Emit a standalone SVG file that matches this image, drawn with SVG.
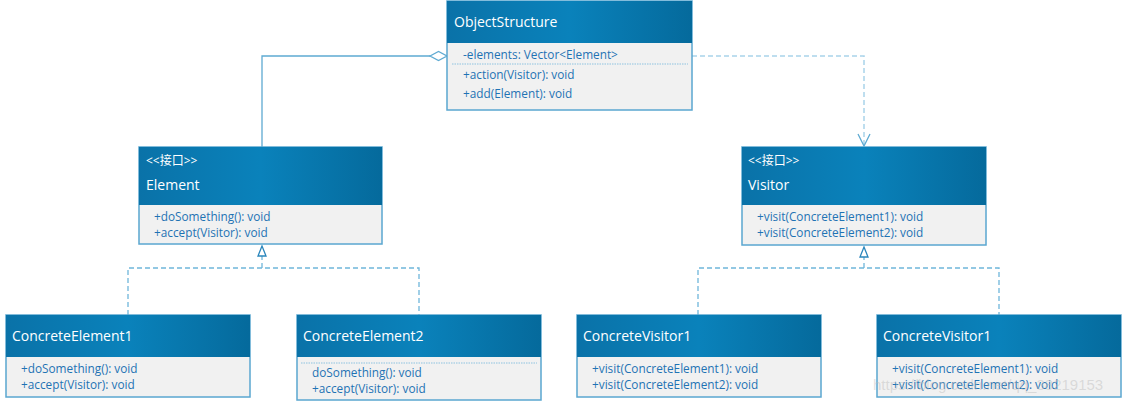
<svg xmlns="http://www.w3.org/2000/svg" width="1125" height="404" viewBox="0 0 1125 404">
<style>
.box{fill:#f1f1f1;stroke:#5aa6d0;stroke-width:1.5}
.hdr{fill:url(#hg)}
.t{font-family:"Open Sans","Noto Sans CJK SC",sans-serif;font-size:14px;fill:#ffffff}
.st{font-family:"Open Sans","Noto Sans CJK SC",sans-serif;font-size:12px;fill:#ffffff}
.m{font-family:"Open Sans","Noto Sans CJK SC",sans-serif;font-size:11.8px;fill:#1f73b4}
.sep{stroke:#8ec3e0;stroke-width:1;stroke-dasharray:1.5 1}
.solid{fill:none;stroke:#5eaad2;stroke-width:1.3}
.dash{fill:none;stroke:#6fb6da;stroke-width:1.3;stroke-dasharray:5 3}
.dash2{fill:none;stroke:#a9d3ea;stroke-width:1.5;stroke-dasharray:5 3}
.arr{fill:#ffffff;stroke:#2a86bc;stroke-width:1.3}
</style>
<defs>
<linearGradient id="hg" x1="0" y1="0" x2="1" y2="0">
<stop offset="0" stop-color="#0a72a8"/>
<stop offset="0.5" stop-color="#0a82bb"/>
<stop offset="1" stop-color="#056a9c"/>
</linearGradient>
</defs>
<g id="connectors">
<polyline class="solid" points="430,56 262,56 262,147"/>
<polygon class="arr" points="430,56 438.5,51.5 447,56 438.5,60.5" style="stroke:#5eaad2"/>
<polyline class="dash2" points="692,56 864,56 864,146"/>
<polyline points="858,134 864,146 870,134" fill="none" stroke="#5eaad2" stroke-width="1.3"/>
<polyline class="dash" points="128,315 128,268 419,268 419,315"/>
<line class="dash" x1="262" y1="268" x2="262" y2="256"/>
<polygon class="arr" points="262,246 258,256 266,256"/>
<polyline class="dash" points="698,315 698,268 999,268 999,315"/>
<line class="dash" x1="864" y1="268" x2="864" y2="257"/>
<polygon class="arr" points="864,247 860,257 868,257"/>
</g>
<g id="ObjectStructure">
<rect class="box" x="447" y="1" width="245" height="109"/>
<rect class="hdr" x="447" y="1" width="245" height="42"/>
<text class="t" x="454" y="27">ObjectStructure</text>
<text class="m" x="463" y="59">-elements: Vector&lt;Element&gt;</text>
<line class="sep" x1="452" y1="64" x2="688" y2="64"/>
<text class="m" x="463" y="79">+action(Visitor): void</text>
<text class="m" x="463" y="98">+add(Element): void</text>
</g>
<g id="Element">
<rect class="box" x="139" y="147" width="243" height="97"/>
<rect class="hdr" x="139" y="147" width="243" height="58"/>
<text class="st" x="146" y="165">&lt;&lt;接口&gt;&gt;</text>
<text class="t" x="146" y="190">Element</text>
<text class="m" x="154" y="221">+doSomething(): void</text>
<text class="m" x="154" y="237">+accept(Visitor): void</text>
</g>
<g id="Visitor">
<rect class="box" x="742" y="147" width="244" height="98"/>
<rect class="hdr" x="742" y="147" width="244" height="58"/>
<text class="st" x="748" y="165">&lt;&lt;接口&gt;&gt;</text>
<text class="t" x="748" y="190">Visitor</text>
<text class="m" x="757" y="221">+visit(ConcreteElement1): void</text>
<text class="m" x="757" y="237">+visit(ConcreteElement2): void</text>
</g>
<g id="ConcreteElement1">
<rect class="box" x="6" y="315" width="244" height="82"/>
<rect class="hdr" x="6" y="315" width="244" height="42"/>
<text class="t" x="12" y="341">ConcreteElement1</text>
<text class="m" x="21" y="373">+doSomething(): void</text>
<text class="m" x="21" y="389">+accept(Visitor): void</text>
</g>
<g id="ConcreteElement2">
<rect class="box" x="297" y="315" width="244" height="85"/>
<rect class="hdr" x="297" y="315" width="244" height="42"/>
<text class="t" x="303" y="341">ConcreteElement2</text>
<line class="sep" x1="301" y1="363" x2="537" y2="363"/>
<text class="m" x="312" y="377">doSomething(): void</text>
<text class="m" x="312" y="393">+accept(Visitor): void</text>
</g>
<g id="ConcreteVisitor1a">
<rect class="box" x="577" y="315" width="244" height="82"/>
<rect class="hdr" x="577" y="315" width="244" height="42"/>
<text class="t" x="583" y="341">ConcreteVisitor1</text>
<text class="m" x="592" y="373">+visit(ConcreteElement1): void</text>
<text class="m" x="592" y="389">+visit(ConcreteElement2): void</text>
</g>
<g id="ConcreteVisitor1b">
<rect class="box" x="877" y="315" width="244" height="82"/>
<rect class="hdr" x="877" y="315" width="244" height="42"/>
<text class="t" x="883" y="341">ConcreteVisitor1</text>
<text class="m" x="892" y="373">+visit(ConcreteElement1): void</text>
<text class="m" x="892" y="389">+visit(ConcreteElement2): void</text>
</g>
<text x="873" y="390" font-family="Liberation Sans, sans-serif" font-size="15" fill="#bbbbbb" fill-opacity="0.45">https://blog.csdn.net/qq_38219153</text>
</svg>
